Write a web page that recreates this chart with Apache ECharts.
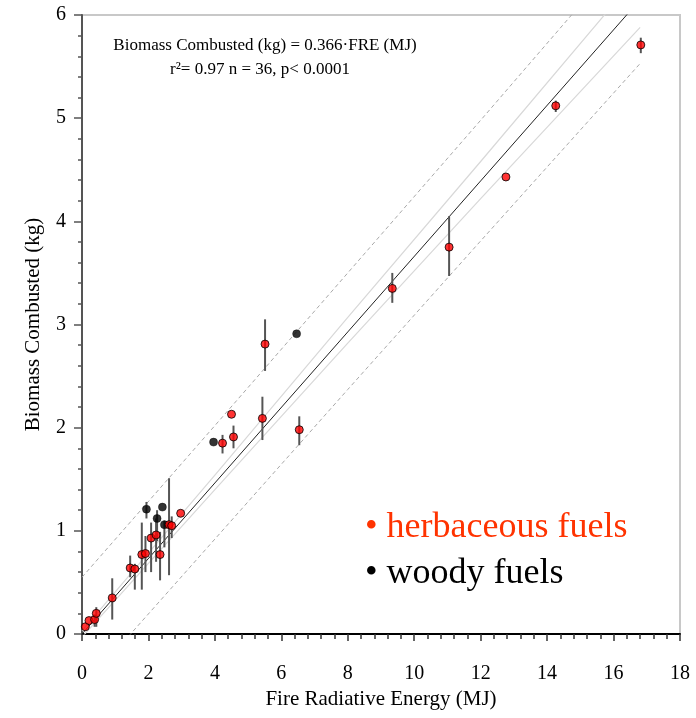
<!DOCTYPE html>
<html>
<head>
<meta charset="utf-8">
<script src="https://cdn.jsdelivr.net/npm/echarts@6/dist/echarts.min.js"></script>
<style>
html,body{margin:0;padding:0;background:#fff;}
#chart{width:696px;height:718px;}
</style>
</head>
<body>
<div id="chart"></div>
<script>
// ---- data ----
// herbaceous fuels: FRE (MJ), biomass (kg), error-bar low, error-bar high
var herbX  = [0.10, 0.21, 0.38, 0.43, 0.91, 1.45, 1.59, 1.80, 1.91, 2.08, 2.23, 2.35, 2.62, 2.70, 2.97, 4.23, 4.50, 4.56, 5.43, 5.51, 6.54, 9.34, 11.05, 12.76, 14.26, 16.82];
var herbY  = [0.07, 0.13, 0.14, 0.20, 0.35, 0.64, 0.63, 0.77, 0.78, 0.93, 0.96, 0.77, 1.06, 1.05, 1.17, 1.85, 2.13, 1.91, 2.09, 2.81, 1.98, 3.35, 3.75, 4.43, 5.12, 5.71];
var herbLo = [null, null, 0.07, 0.07, 0.14, 0.55, 0.43, 0.43, 0.60, 0.60, 0.70, 0.52, 0.57, 0.93, null, 1.75, null, 1.80, 1.88, 2.55, 1.83, 3.21, 3.47, null, 5.06, 5.63];
var herbHi = [null, null, 0.19, 0.26, 0.54, 0.76, 0.68, 1.08, 0.95, 1.08, 1.12, 0.99, 1.51, 1.14, null, 1.93, null, 2.02, 2.30, 3.05, 2.11, 3.50, 4.05, null, 5.17, 5.78];
// woody fuels
var woodX  = [1.94, 2.26, 2.42, 2.48, 3.96, 6.46];
var woodY  = [1.21, 1.12, 1.23, 1.06, 1.86, 2.91];
var woodLo = [1.12, 0.90, null, 0.84, null, null];
var woodHi = [1.28, 1.20, null, 1.10, null, null];
// fitted line and bands
var bandX    = [0, 4, 8, 12, 16.8];
var fitY     = [0, 1.464, 2.928, 4.392, 6.149];
var ciUpper  = [0.03, 1.54, 3.07, 4.58, 6.41];
var ciLower  = [-0.03, 1.40, 2.82, 4.22, 5.88];
var piUpper  = [0.55, 2.02, 3.50, 4.98, 6.77];
var piLower  = [-0.53, 0.92, 2.37, 3.81, 5.53];
// axis ticks
var xMin = 0, xMax = 18, xStep = 2, xMinorStep = 0.4;
var yMin = 0, yMax = 6, yStep = 1, yMinorStep = 0.2;

var SERIF = '"Liberation Serif", "Times New Roman", serif';

function pairs(xs, ys){ return xs.map(function(x,i){ return [x, ys[i]]; }); }
function errData(xs, lo, hi){
  var out = [];
  xs.forEach(function(x,i){ if(lo[i]!=null && hi[i]!=null) out.push([x, lo[i], hi[i]]); });
  return out;
}
var errAll = errData(herbX, herbLo, herbHi).concat(errData(woodX, woodLo, woodHi));

var chart = echarts.init(document.getElementById('chart'), null, {renderer:'canvas'});
var lineBase = {type:'line', symbol:'none', clip:true, silent:true, animation:false};

chart.setOption({
  animation:false,
  backgroundColor:'#ffffff',
  grid:{left:82, right:16, top:15, bottom:84, show:true, borderColor:'#c8c8c8', borderWidth:2, backgroundColor:'transparent'},
  xAxis:[{
    type:'value', min:xMin, max:xMax, interval:xStep,
    name:'Fire Radiative Energy (MJ)', nameLocation:'middle', nameGap:54,
    nameTextStyle:{fontFamily:SERIF, fontSize:21, color:'#000'},
    axisLine:{onZero:false, lineStyle:{color:'#000', width:2}},
    axisTick:{show:true, length:7, lineStyle:{color:'#333', width:1.5}},
    axisLabel:{fontFamily:SERIF, fontSize:20, color:'#000', margin:30},
    splitLine:{show:false}
  },{
    type:'value', min:xMin, max:xMax, interval:xMinorStep, position:'bottom',
    axisLine:{show:false, onZero:false},
    axisTick:{show:true, length:5, lineStyle:{color:'#333', width:1.5}},
    axisLabel:{show:false}, splitLine:{show:false}
  }],
  yAxis:[{
    type:'value', min:yMin, max:yMax, interval:yStep,
    name:'Biomass Combusted (kg)', nameLocation:'middle', nameGap:38, nameRotate:90,
    nameTextStyle:{fontFamily:SERIF, fontSize:21, color:'#000'},
    axisLine:{onZero:false, lineStyle:{color:'#555', width:2}},
    axisTick:{show:true, length:8, lineStyle:{color:'#555', width:1.5}},
    axisLabel:{fontFamily:SERIF, fontSize:20, color:'#000', margin:16},
    splitLine:{show:false}
  },{
    type:'value', min:yMin, max:yMax, interval:yMinorStep, position:'left',
    axisLine:{show:false, onZero:false},
    axisTick:{show:true, length:4, lineStyle:{color:'#555', width:1.5}},
    axisLabel:{show:false}, splitLine:{show:false}
  }],
  series:[
    Object.assign({}, lineBase, {name:'pi upper', data:pairs(bandX, piUpper), lineStyle:{color:'#a8a8a8', width:1, type:[4,3]}, z:1}),
    Object.assign({}, lineBase, {name:'pi lower', data:pairs(bandX, piLower), lineStyle:{color:'#a8a8a8', width:1, type:[4,3]}, z:1}),
    Object.assign({}, lineBase, {name:'ci upper', data:pairs(bandX, ciUpper), lineStyle:{color:'#d8d8d8', width:1.2}, z:1}),
    Object.assign({}, lineBase, {name:'ci lower', data:pairs(bandX, ciLower), lineStyle:{color:'#d8d8d8', width:1.2}, z:1}),
    Object.assign({}, lineBase, {name:'fit', data:pairs(bandX, fitY), lineStyle:{color:'#222', width:1}, z:2}),
    {
      type:'custom', name:'error bars', silent:true, z:3,
      data:errAll,
      encode:{x:0, y:[1,2]},
      renderItem:function(params, api){
        var p1 = api.coord([api.value(0), api.value(1)]);
        var p2 = api.coord([api.value(0), api.value(2)]);
        return {type:'line', shape:{x1:p1[0], y1:p1[1], x2:p2[0], y2:p2[1]},
                style:{stroke:'#555', lineWidth:2}};
      }
    },
    {type:'scatter', name:'woody fuels', data:pairs(woodX, woodY), symbol:'circle', symbolSize:8,
     itemStyle:{color:'#000', borderColor:'#000', borderWidth:0.5}, z:4},
    {type:'scatter', name:'herbaceous fuels', data:pairs(herbX, herbY), symbol:'circle', symbolSize:8,
     itemStyle:{color:'#ff0000', borderColor:'#000', borderWidth:1}, z:5}
  ],
  graphic:[
    {type:'text', x:265, y:46, style:{text:'Biomass Combusted (kg) = 0.366·FRE (MJ)', fontFamily:SERIF, fontSize:17, fill:'#000', textAlign:'center', textVerticalAlign:'middle'}},
    {type:'text', x:260, y:70, style:{text:'r²= 0.97 n = 36, p< 0.0001', fontFamily:SERIF, fontSize:17, fill:'#000', textAlign:'center', textVerticalAlign:'middle'}},
    {type:'text', x:365, y:528, style:{text:'• herbaceous fuels', fontFamily:SERIF, fontSize:36, fill:'#ff3300', textAlign:'left', textVerticalAlign:'middle'}},
    {type:'text', x:365, y:574, style:{text:'• woody fuels', fontFamily:SERIF, fontSize:36, fill:'#000', textAlign:'left', textVerticalAlign:'middle'}}
  ]
});
</script>
</body>
</html>
